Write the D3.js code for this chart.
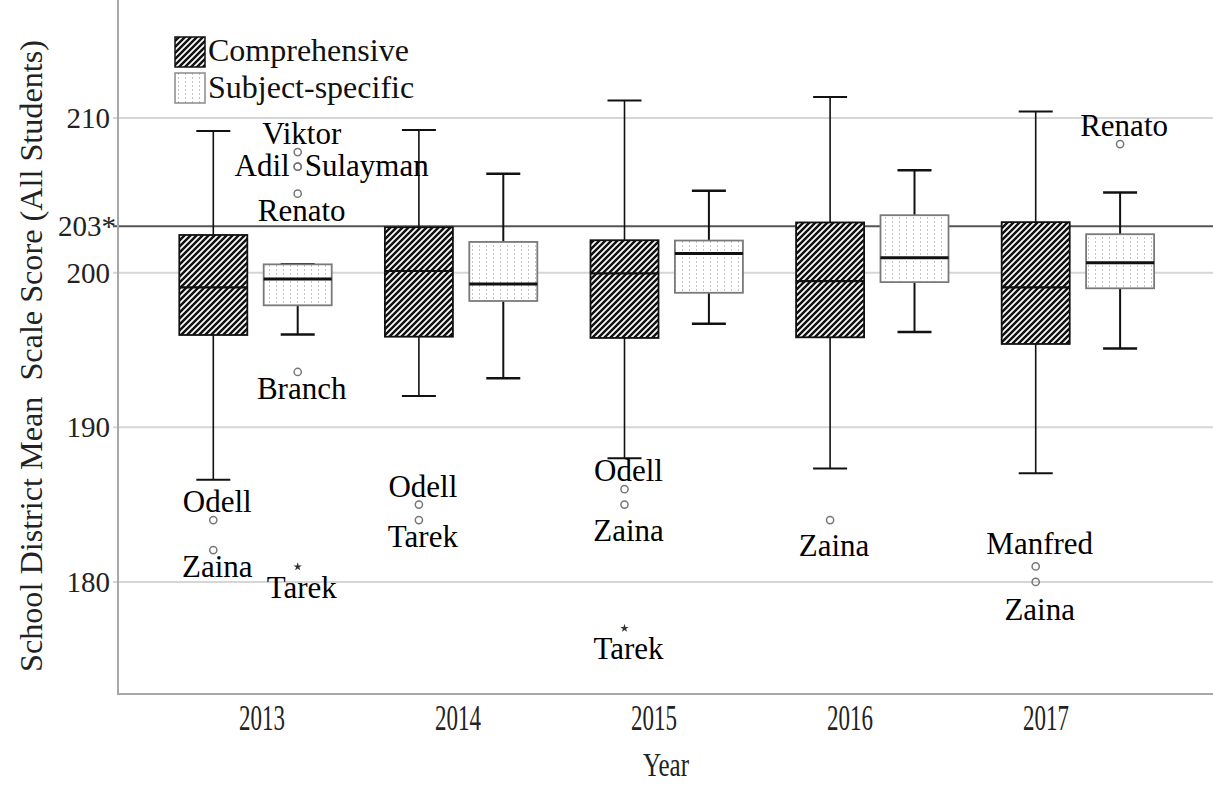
<!DOCTYPE html>
<html>
<head>
<meta charset="utf-8">
<script src="https://cdn.jsdelivr.net/npm/d3@7"></script>
<style>
  body { margin: 0; background: #fff; }
  text { font-family: "Liberation Serif", "Times New Roman", serif; }
</style>
</head>
<body>
<div class="canvas"></div>
<script>
// data
const years = ['2013', '2014', '2015', '2016', '2017'];
const groups = ['Comprehensive', 'Subject-specific'];
// [lower whisker, Q1, median, Q3, upper whisker]
const comprehensive = [
  [186.6, 195.97, 199.05, 202.44, 209.16],
  [192.02, 195.86, 200.11, 202.94, 209.23],
  [187.99, 195.78, 199.95, 202.1, 211.14],
  [187.34, 195.82, 199.45, 203.25, 211.36],
  [187.03, 195.39, 199.05, 203.27, 210.43]
];
const subjectSpecific = [
  [196.01, 197.89, 199.59, 200.54, 200.54],
  [193.17, 198.17, 199.27, 201.99, 206.4],
  [196.69, 198.7, 201.25, 202.08, 205.3],
  [196.17, 199.39, 200.97, 203.72, 206.62],
  [195.1, 198.99, 200.65, 202.49, 205.19]
];
const yTicks = [180, 190, 200, 210];
const refValue = 203;

const outlierYear  = ['2013','2013','2013','2013','2013','2013','2013','2013','2014','2014','2015','2015','2015','2016','2017','2017','2017'];
const outlierGroup = [1, 1, 1, 1, 1, 0, 0, 1, 0, 0, 0, 0, 0, 0, 0, 0, 1];
const outlierValue = [207.8, 206.86, 206.86, 205.11, 193.58, 184.0, 182.06, 180.98, 185.0, 184.0, 186.0, 185.0, 177.0, 184.0, 181.0, 180.0, 208.32];
const outlierName  = ['Viktor','Adil','Sulayman','Renato','Branch','Odell','Zaina','Tarek','Odell','Tarek','Odell','Zaina','Tarek','Zaina','Manfred','Zaina','Renato'];
const outlierKind  = ['o','o','o','o','o','o','o','*','o','o','o','o','*','o','o','o','o'];
const labelSide    = ['above','left','right','below','below','above','below','below','above','below','above','below','below','below','above','below','above'];

const width = 1213, height = 786;
const svg = d3.select('.canvas')
  .append('svg')
    .attr('width', width)
    .attr('height', height);

const axisX = 118, bottomY = 694;

// label nudges (px) where the label sits further from its point
const labelNudge = {11: 9, 13: 9, 14: -4, 15: 11};

// patterns
const defs = svg.append('defs');
const hatch = defs.append('pattern')
  .attr('id', 'hatch')
  .attr('patternUnits', 'userSpaceOnUse')
  .attr('width', 6).attr('height', 6);
hatch.append('rect').attr('width', 6).attr('height', 6).attr('fill', '#fff');
hatch.append('path')
  .attr('d', 'M0,6 L6,0 M-1.5,1.5 L1.5,-1.5 M4.5,7.5 L7.5,4.5')
  .attr('stroke', '#111')
  .attr('stroke-width', 2.5);

const dots = defs.append('pattern')
  .attr('id', 'dots')
  .attr('patternUnits', 'userSpaceOnUse')
  .attr('width', 7).attr('height', 4);
dots.append('rect').attr('width', 7).attr('height', 4).attr('fill', '#fff');
dots.append('rect').attr('x', 3).attr('y', 1.5).attr('width', 1).attr('height', 1).attr('fill', '#8a8a8a');

// scales
const y = d3.scaleLinear()
  .domain([180, 210])
  .range([581.9, 118.1]);

const x = d3.scaleBand()
  .domain(years)
  .range([152.7, 1180.7]);

const xInner = d3.scaleBand()
  .domain(groups)
  .range([0, x.bandwidth()])
  .paddingInner(0.194)
  .paddingOuter(0.315);

// the year labels in the picture sit on a slightly tighter spacing than the boxes
const xLabel = d3.scalePoint()
  .domain(years)
  .range([262, 1046]);

const boxW = xInner.bandwidth();
const capW = 34;

// gridlines and ticks
svg.append('g').selectAll('line')
  .data(yTicks)
  .enter().append('line')
    .attr('x1', axisX - 5).attr('x2', width)
    .attr('y1', d => y(d)).attr('y2', d => y(d))
    .attr('stroke', '#d6d6d6')
    .attr('stroke-width', 2);

svg.append('g').selectAll('text')
  .data(yTicks)
  .enter().append('text')
    .attr('x', 110)
    .attr('y', d => y(d) + 10)
    .attr('text-anchor', 'end')
    .attr('font-size', 29)
    .attr('fill', '#222')
    .text(d => d);

// reference line
svg.append('line')
  .attr('x1', axisX - 5).attr('x2', width)
  .attr('y1', y(refValue)).attr('y2', y(refValue))
  .attr('stroke', '#555')
  .attr('stroke-width', 2);
svg.append('text')
  .attr('x', 116)
  .attr('y', y(refValue) + 10)
  .attr('text-anchor', 'end')
  .attr('font-size', 29)
  .attr('fill', '#222')
  .text(refValue + '*');

// frame
svg.append('line')
  .attr('x1', axisX).attr('x2', axisX)
  .attr('y1', 0).attr('y2', bottomY + 1)
  .attr('stroke', '#a8a8a8').attr('stroke-width', 2);
svg.append('line')
  .attr('x1', axisX - 1).attr('x2', width)
  .attr('y1', bottomY).attr('y2', bottomY)
  .attr('stroke', '#a8a8a8').attr('stroke-width', 2);

// boxes
const boxData = [];
years.forEach((yr, i) => {
  boxData.push({year: yr, group: groups[0], s: comprehensive[i]});
  boxData.push({year: yr, group: groups[1], s: subjectSpecific[i]});
});
const cx = d => x(d.year) + xInner(d.group) + boxW / 2;

const boxes = svg.append('g').selectAll('g')
  .data(boxData)
  .enter().append('g');

// whiskers
boxes.append('line')
  .attr('x1', cx).attr('x2', cx)
  .attr('y1', d => y(d.s[4])).attr('y2', d => y(d.s[3]))
  .attr('stroke', '#111')
  .attr('stroke-width', d => d.group === groups[0] ? 1.6 : 2);
boxes.append('line')
  .attr('x1', cx).attr('x2', cx)
  .attr('y1', d => y(d.s[1])).attr('y2', d => y(d.s[0]))
  .attr('stroke', '#111')
  .attr('stroke-width', d => d.group === groups[0] ? 1.6 : 2);
boxes.selectAll('.cap')
  .data(d => [d, d].map((e, k) => ({d: e, v: k === 0 ? e.s[0] : e.s[4]})))
  .enter().append('line')
    .attr('class', 'cap')
    .attr('x1', e => cx(e.d) - capW / 2).attr('x2', e => cx(e.d) + capW / 2)
    .attr('y1', e => y(e.v)).attr('y2', e => y(e.v))
    .attr('stroke', '#111')
    .attr('stroke-width', e => e.d.group === groups[0] ? 2 : 2.5);

boxes.append('rect')
  .attr('x', d => x(d.year) + xInner(d.group))
  .attr('width', boxW)
  .attr('y', d => y(d.s[3]))
  .attr('height', d => y(d.s[1]) - y(d.s[3]))
  .attr('fill', d => d.group === groups[0] ? 'url(#hatch)' : 'url(#dots)')
  .attr('stroke', d => d.group === groups[0] ? '#111' : '#7a7a7a')
  .attr('stroke-width', 1.8);

boxes.append('line')
  .attr('x1', d => x(d.year) + xInner(d.group))
  .attr('x2', d => x(d.year) + xInner(d.group) + boxW)
  .attr('y1', d => y(d.s[2])).attr('y2', d => y(d.s[2]))
  .attr('stroke', '#111')
  .attr('stroke-width', d => d.group === groups[0] ? 2.2 : 3);

// outliers
const outliers = outlierName.map((n, i) => ({
  name: n, year: outlierYear[i], group: groups[outlierGroup[i]],
  value: outlierValue[i], kind: outlierKind[i], side: labelSide[i], idx: i
}));

const og = svg.append('g');
og.selectAll('circle')
  .data(outliers.filter(d => d.kind === 'o'))
  .enter().append('circle')
    .attr('cx', cx)
    .attr('cy', d => y(d.value))
    .attr('r', 3.6)
    .attr('fill', 'none')
    .attr('stroke', '#777')
    .attr('stroke-width', 1.5);

og.selectAll('path')
  .data(outliers.filter(d => d.kind === '*'))
  .enter().append('path')
    .attr('d', d3.symbol(d3.symbolStar).size(22))
    .attr('transform', d => `translate(${cx(d)}, ${y(d.value)})`)
    .attr('fill', '#333');

og.selectAll('text')
  .data(outliers)
  .enter().append('text')
    .attr('font-size', 31)
    .attr('fill', '#000')
    .attr('text-anchor', d => d.side === 'left' ? 'end' : d.side === 'right' ? 'start' : 'middle')
    .attr('x', d => d.side === 'left' ? cx(d) - 8 : d.side === 'right' ? cx(d) + 7 : cx(d) + 4)
    .attr('y', d => {
      const n = labelNudge[d.idx] || 0;
      if (d.side === 'above') return y(d.value) - 8 + n;
      if (d.side === 'below') return y(d.value) + (d.kind === '*' ? 31 : 27) + n;
      return y(d.value) + 9;
    })
    .text(d => d.name);

// x axis labels
svg.append('g').selectAll('text')
  .data(years)
  .enter().append('text')
    .attr('x', d => xLabel(d))
    .attr('y', 730)
    .attr('text-anchor', 'middle')
    .attr('font-size', 35)
    .attr('textLength', 46)
    .attr('lengthAdjust', 'spacingAndGlyphs')
    .attr('fill', '#222')
    .text(d => d);

svg.append('text')
  .attr('x', 666)
  .attr('y', 776)
  .attr('text-anchor', 'middle')
  .attr('font-size', 34)
  .attr('textLength', 46)
  .attr('lengthAdjust', 'spacingAndGlyphs')
  .attr('fill', '#222')
  .text('Year');

svg.append('text')
  .attr('transform', 'translate(42, 356) rotate(-90)')
  .attr('text-anchor', 'middle')
  .attr('font-size', 32)
  .attr('textLength', 632)
  .attr('lengthAdjust', 'spacingAndGlyphs')
  .attr('fill', '#222')
  .attr('xml:space', 'preserve')
  .style('white-space', 'pre')
  .text('School District Mean  Scale Score (All Students)');

// legend
const legend = svg.append('g');
legend.selectAll('rect')
  .data(groups)
  .enter().append('rect')
    .attr('x', 175)
    .attr('y', (d, i) => 37 + i * 36)
    .attr('width', 30).attr('height', 30)
    .attr('fill', (d, i) => i === 0 ? 'url(#hatch)' : 'url(#dots)')
    .attr('stroke', (d, i) => i === 0 ? '#111' : '#8a8a8a')
    .attr('stroke-width', 1.5);
legend.selectAll('text')
  .data(groups)
  .enter().append('text')
    .attr('x', 208)
    .attr('y', (d, i) => 61 + i * 37)
    .attr('font-size', 32)
    .attr('fill', '#111')
    .text(d => d);
</script>
</body>
</html>
